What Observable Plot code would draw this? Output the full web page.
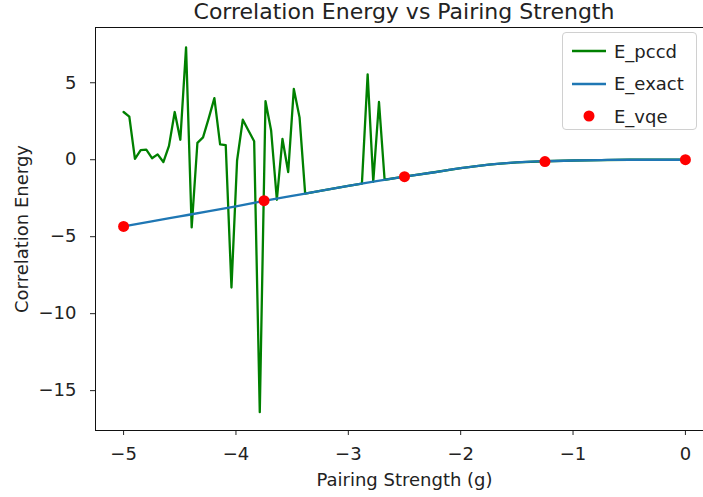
<!DOCTYPE html>
<html>
<head>
<meta charset="utf-8">
<script src="https://cdn.jsdelivr.net/npm/d3@7"></script>
<script src="https://cdn.jsdelivr.net/npm/@observablehq/plot@0.6"></script>
<style>
  body { margin: 0; background: #fff; font-family: "DejaVu Sans", sans-serif; }
  #wrap { position: relative; width: 703px; height: 497px; overflow: hidden; }
  #title { height: 22px; width: 618px; padding-left: 95px; text-align: center; font-size: 22px; line-height: 24px; color: #222; white-space: nowrap; }
  #chart { width: 713px; }
  #legend { position: absolute; left: 562px; top: 32px; width: 135px; height: 98px; border: 1px solid #d0d0d0; border-radius: 4px; background: rgba(255,255,255,0.85); box-sizing: border-box; }
  .row { position: absolute; left: 0; height: 30px; display: flex; align-items: center; font-size: 18px; color: #222; white-space: nowrap; }
  .row svg { margin-left: 9px; margin-right: 8px; }
</style>
</head>
<body>
<div id="wrap">
  <div id="title">Correlation Energy vs Pairing Strength</div>
  <div id="chart"></div>
  <div id="legend"></div>
</div>
<script>
// E_pccd: x values and correlation energies
const pccdX = [-5, -4.949, -4.899, -4.848, -4.798, -4.747, -4.697, -4.646, -4.596, -4.545,
  -4.495, -4.444, -4.394, -4.343, -4.293, -4.242, -4.192, -4.141, -4.091, -4.040,
  -3.990, -3.939, -3.889, -3.838, -3.788, -3.737, -3.687, -3.636, -3.586, -3.535,
  -3.485, -3.434, -3.384, -3.25, -3.0, -2.879, -2.828, -2.778, -2.727, -2.677,
  -2.5, -2.25, -2.0, -1.75, -1.5, -1.25, -1.0, -0.75, -0.5, -0.25, 0];
const pccdY = [3.1, 2.8, 0.05, 0.62, 0.65, 0.1, 0.35, -0.15, 0.9, 3.1,
  1.3, 7.3, -4.4, 1.1, 1.45, 2.7, 4.0, 1.0, 0.95, -8.3,
  -0.05, 2.6, 1.9, 1.2, -16.4, 3.8, 1.9, -2.6, 1.35, -0.8,
  4.6, 2.75, -2.2, -2.02, -1.7, -1.55, 5.55, -1.43, 3.75, -1.3,
  -1.1, -0.83, -0.55, -0.32, -0.17, -0.1, -0.05, -0.02, 0, 0, 0];

// E_exact
const exactX = [-5, -4.75, -4.5, -4.25, -4.0, -3.75, -3.5, -3.25, -3.0, -2.75, -2.5,
  -2.25, -2.0, -1.75, -1.5, -1.25, -1.0, -0.75, -0.5, -0.25, 0];
const exactY = [-4.33, -4.0, -3.68, -3.36, -3.03, -2.68, -2.35, -2.02, -1.7, -1.39, -1.1,
  -0.83, -0.55, -0.32, -0.17, -0.1, -0.05, -0.02, 0, 0, 0];

// E_vqe
const vqeX = [-5, -3.75, -2.5, -1.25, 0];
const vqeY = [-4.33, -2.66, -1.1, -0.12, 0];

const xTicks = [-5, -4, -3, -2, -1, 0];
const yTicks = [5, 0, -5, -10, -15];

const seriesNames = ["E_pccd", "E_exact", "E_vqe"];
const colors = {E_pccd: "#008000", E_exact: "#1f77b4", E_vqe: "#ff0000"};

const pccd = pccdX.map((x, i) => ({x, y: pccdY[i]}));
const exact = exactX.map((x, i) => ({x, y: exactY[i]}));
const vqe = vqeX.map((x, i) => ({x, y: vqeY[i]}));

const chart = Plot.plot({
  width: 713,
  height: 475,
  marginLeft: 95,
  marginRight: 0,
  marginTop: 5,
  marginBottom: 67,
  style: {fontFamily: "DejaVu Sans, sans-serif", fontSize: "18px", color: "#222", background: "#fff", overflow: "visible"},
  x: {domain: [-5.25, 0.25], ticks: xTicks},
  y: {domain: [-17.59, 8.59], ticks: yTicks},
  marks: [
    Plot.axisX({ticks: xTicks, tickSize: 5, tickPadding: 12, label: "Pairing Strength (g)", labelAnchor: "center", labelOffset: 55, labelArrow: "none", tickFormat: d3.format("d")}),
    Plot.axisY({ticks: yTicks, tickSize: 5, tickPadding: 14, label: "Correlation Energy", labelAnchor: "center", labelOffset: 80, labelArrow: "none", tickFormat: d3.format("d")}),
    Plot.line(pccd, {x: "x", y: "y", stroke: colors.E_pccd, strokeWidth: 2.3}),
    Plot.line(exact, {x: "x", y: "y", stroke: colors.E_exact, strokeWidth: 2.3, curve: "monotone-x"}),
    Plot.dot(vqe, {x: "x", y: "y", fill: colors.E_vqe, r: 5.5}),
    Plot.frame({stroke: "#111", strokeWidth: 1})
  ]
});
document.getElementById("chart").appendChild(chart);

const legend = document.getElementById("legend");
seriesNames.forEach((name, i) => {
  const row = document.createElement("div");
  row.className = "row";
  row.style.top = (3 + i * 32.5) + "px";
  const sw = name === "E_vqe"
    ? `<svg width="34" height="12"><circle cx="17" cy="6" r="5.5" fill="${colors[name]}"/></svg>`
    : `<svg width="34" height="12"><line x1="0" x2="34" y1="6" y2="6" stroke="${colors[name]}" stroke-width="2.4"/></svg>`;
  row.innerHTML = sw + `<span>${name}</span>`;
  legend.appendChild(row);
});
</script>
</body>
</html>
